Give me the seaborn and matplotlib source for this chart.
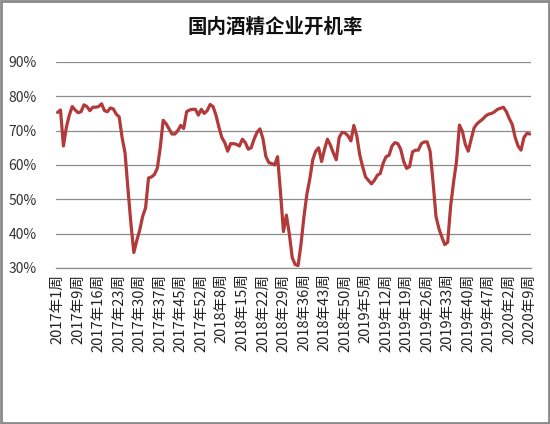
import numpy as np
import pandas as pd
import seaborn as sns
import matplotlib.pyplot as plt
from matplotlib.patches import Rectangle
from matplotlib.ticker import FuncFormatter

# %% data: weekly operating rate (%)

rate = [75.3, 76.0, 65.5, 71.0, 74.5, 77.0, 76.0, 75.2, 75.5, 77.5,
        77.0, 75.8, 76.8, 76.8, 77.0, 77.8, 75.8, 75.5, 76.6, 76.3,
        74.8, 74.0, 68.0, 63.5, 53.0, 43.0, 34.5, 38.0, 41.0, 45.0,
        47.5, 56.2, 56.5, 57.2, 59.0, 65.0, 73.0, 72.0, 70.5, 69.0,
        69.0, 70.0, 71.5, 70.6, 75.5, 76.0, 76.2, 76.2, 74.5, 76.2,
        75.0, 75.8, 77.6, 77.0, 74.5, 71.0, 68.0, 66.5, 64.0, 66.2,
        66.2, 66.0, 65.5, 67.5, 66.5, 64.6, 65.0, 67.5, 69.5, 70.5,
        67.7, 62.5, 60.7, 60.4, 60.0, 62.4, 52.0, 40.6, 45.4, 40.0,
        33.0, 31.0, 30.7, 37.0, 45.0, 51.5, 56.0, 61.5, 64.0, 65.0,
        61.0, 64.5, 67.5, 65.8, 63.5, 61.5, 68.0, 69.5, 69.3, 68.5,
        67.0, 71.5, 68.5, 63.0, 59.5, 56.5, 55.5, 54.5, 55.5, 57.0,
        57.5, 60.5, 62.4, 62.8, 65.5, 66.5, 66.2, 64.5, 61.0, 59.0,
        59.5, 63.8, 64.3, 64.3, 66.2, 66.7, 66.7, 64.0, 55.1, 45.0,
        41.5, 39.0, 36.8, 37.5, 48.0, 55.0, 61.0, 71.6, 69.8, 66.0,
        64.0, 67.5, 70.8, 72.0, 72.7, 73.4, 74.3, 74.8, 75.0, 75.5,
        76.2, 76.5, 76.8, 75.5, 73.5, 71.8, 68.0, 65.5, 64.3, 68.0,
        69.2, 69.0]

week_labels = ['2017年1周', '2017年9周', '2017年16周', '2017年23周', '2017年30周',
               '2017年37周', '2017年45周', '2017年52周', '2018年8周', '2018年15周',
               '2018年22周', '2018年29周', '2018年36周', '2018年43周', '2018年50周',
               '2019年5周', '2019年12周', '2019年19周', '2019年26周', '2019年33周',
               '2019年40周', '2019年47周', '2020年2周', '2020年9周']

label_step = 7
y_ticks = [30, 40, 50, 60, 70, 80, 90]

df = pd.DataFrame({'idx': np.arange(len(rate)), 'rate': rate})

# %% plot
sns.set_style('white')
plt.rcParams['font.family'] = ['Noto Sans CJK SC', 'DejaVu Sans']

fig = plt.figure(figsize=(5.5, 4.24), dpi=100)
ax = fig.add_axes([0.102, 0.368, 0.864, 0.486])

sns.lineplot(data=df, x='idx', y='rate', color='#B23A3A', linewidth=2.3, ax=ax)

ax.set_xlim(-0.5, len(rate) - 0.5)
ax.set_ylim(30, 90)
ax.set_yticks(y_ticks)
ax.yaxis.set_major_formatter(FuncFormatter(lambda v, p: '%d%%' % v))
ax.yaxis.grid(True, color='#8c8c8c', linewidth=0.9)
ax.set_axisbelow(True)

ax.set_xticks(np.arange(0, len(rate), label_step))
ax.set_xticklabels(week_labels, rotation=90, ha='center', va='top',
                   fontsize=10.5, color='#222222')
ax.tick_params(axis='both', length=0)
ax.tick_params(axis='y', labelsize=10, labelcolor='#333333', pad=14)
ax.tick_params(axis='x', pad=4)

for s in ['top', 'right', 'left']:
    ax.spines[s].set_visible(False)
ax.spines['bottom'].set_color('#8c8c8c')
ax.spines['bottom'].set_linewidth(0.9)

ax.set_xlabel('')
ax.set_ylabel('')

fig.text(0.5, 0.935, '国内酒精企业开机率', ha='center', va='center',
         fontsize=14, fontweight='bold', color='#111111')

# grey frame around the whole picture
fig.patches.append(Rectangle((0.002, 0.002), 0.996, 0.996, transform=fig.transFigure,
                             fill=False, edgecolor='#8a8a8a', linewidth=2))

fig.savefig('out.png', dpi=100)
